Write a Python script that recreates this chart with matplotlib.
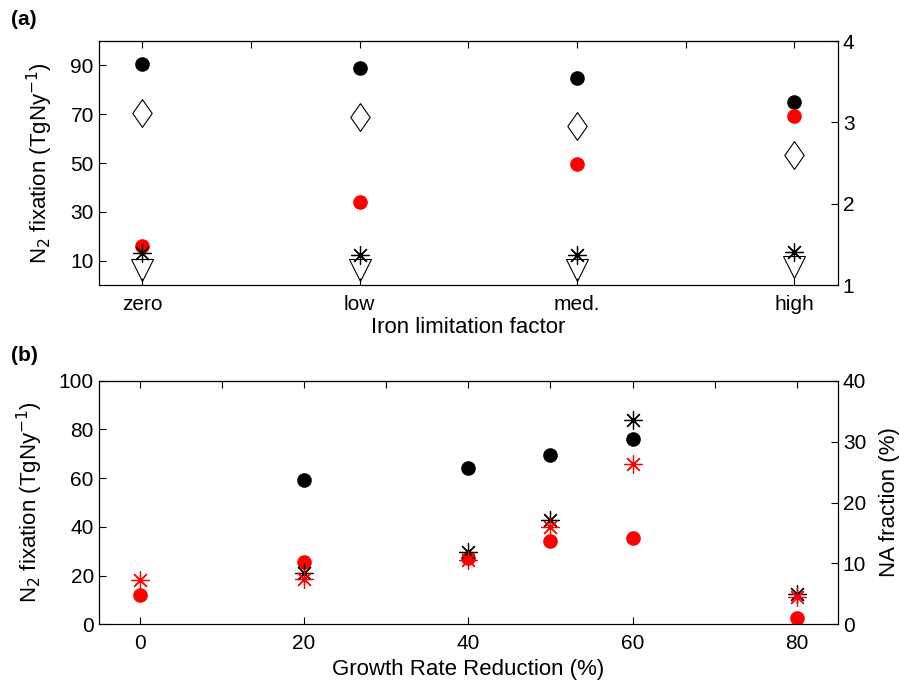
import numpy as np
import matplotlib
matplotlib.use('Agg')
import matplotlib.pyplot as plt

plt.rcParams['font.family'] = ['Liberation Sans', 'DejaVu Sans']
plt.rcParams['font.size'] = 15
plt.rcParams['axes.linewidth'] = 0.8

# panel (a): iron limitation
iron_labels = ['zero', 'low', 'med.', 'high']
iron_x = [1, 2, 3, 4]
fix_black = [90.7, 88.8, 84.7, 75.0]
fix_red = [16.1, 34.2, 49.5, 69.3]
fix_star = [13.3, 12.5, 12.5, 13.8]
fix_tri = [6.3, 6.3, 6.3, 7.5]
ratio_diamond = [3.11, 3.07, 2.96, 2.60]   # right axis

# panel (b): growth rate reduction
grr_black = [20, 40, 50, 60]
fix2_black = [59.2, 64.3, 69.6, 75.9]
grr_red = [0, 20, 40, 50, 60, 80]
fix2_red = [12.2, 25.6, 27.1, 34.2, 35.6, 2.7]
grr_star_k = [20, 40, 50, 60, 80]
na_star_k = [8.4, 11.9, 17.1, 33.6, 5.0]      # right axis (%)
grr_star_r = [0, 20, 40, 50, 60, 80]
na_star_r = [7.3, 7.5, 10.6, 16.0, 26.4, 4.4]  # right axis (%)

LAB = 16

fig = plt.figure(figsize=(9, 6.84), dpi=100)
ax1 = fig.add_axes([0.1096, 0.583, 0.8214, 0.357])
ax3 = fig.add_axes([0.1096, 0.0873, 0.8214, 0.3561])

star = (8, 2, 0)
diamond = [(0, 1), (0.7, 0), (0, -1), (-0.7, 0), (0, 1)]

# ---- (a)
ax1.plot(iron_x, fix_black, 'o', color='k', ms=9.5, ls='none')
ax1.plot(iron_x, fix_red, 'o', color='red', ms=9.5, ls='none')
ax1.plot(iron_x, fix_tri, 'v', mfc='none', mec='k', mew=0.8, ms=15.5, ls='none')
ax1.plot(iron_x, fix_star, marker=star, color='k', mew=0.9, ms=13, ls='none')
ax1.set_xlim(0.8, 4.2)
ax1.set_ylim(0, 100)
ax1.set_yticks([10, 30, 50, 70, 90])
ax1.set_xticks(iron_x)
ax1.set_xticklabels(iron_labels)
ax1.set_xlabel('Iron limitation factor', fontsize=LAB, labelpad=2)
ax1.set_ylabel('N$_2$ fixation (TgNy$^{-1}$)', fontsize=LAB, labelpad=11)
ax1.tick_params(direction='in', length=5, width=0.8, right=False, top=False)
ax1.tick_params(axis='x', pad=7)

ax2 = ax1.twinx()
ax2.plot(iron_x, ratio_diamond, marker=diamond, mfc='none', mec='k', mew=0.8,
         ms=20, ls='none')
ax2.set_ylim(1, 4)
ax2.set_yticks([1, 2, 3, 4])
ax2.tick_params(direction='in', length=5, width=0.8)
top1 = ax1.secondary_xaxis('top')
top1.set_xticks(np.arange(1, 4.01, 0.5))
top1.tick_params(direction='in', length=5, width=0.8, labeltop=False)

# ---- (b)
ax3.plot(grr_black, fix2_black, 'o', color='k', ms=9.5, ls='none')
ax3.plot(grr_red, fix2_red, 'o', color='red', ms=9.5, ls='none')
ax3.set_xlim(-5, 85)
ax3.set_ylim(0, 100)
ax3.set_yticks(np.arange(0, 101, 20))
ax3.set_xticks([0, 20, 40, 60, 80])
ax3.set_xlabel('Growth Rate Reduction (%)', fontsize=LAB, labelpad=4)
ax3.set_ylabel('N$_2$ fixation (TgNy$^{-1}$)', fontsize=LAB, labelpad=10)
ax3.tick_params(direction='in', length=5, width=0.8, right=False, top=False)
ax3.tick_params(axis='x', pad=7)

ax4 = ax3.twinx()
ax4.plot(grr_star_k, na_star_k, marker=star, color='k', mew=0.9, ms=13, ls='none')
ax4.plot(grr_star_r, na_star_r, marker=star, color='red', mew=0.9, ms=13, ls='none')
ax4.set_ylim(0, 40)
ax4.set_yticks(np.arange(0, 41, 10))
ax4.set_ylabel('NA fraction (%)', fontsize=LAB, labelpad=9)
ax4.tick_params(direction='in', length=5, width=0.8)
top3 = ax3.secondary_xaxis('top')
top3.set_xticks(np.arange(0, 81, 10))
top3.tick_params(direction='in', length=5, width=0.8, labeltop=False)

fig.text(0.012, 0.972, '(a)', fontsize=15, fontweight='bold', va='center')
fig.text(0.012, 0.48, '(b)', fontsize=15, fontweight='bold', va='center')

fig.savefig('out.png', dpi=100)
